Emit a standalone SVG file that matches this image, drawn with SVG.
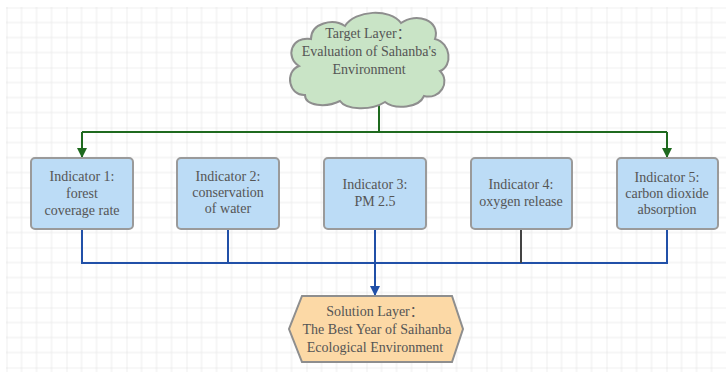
<svg xmlns="http://www.w3.org/2000/svg" width="726" height="372" viewBox="0 0 726 372">
<style>
.t{font-family:"Liberation Serif","Noto Sans CJK SC",serif;font-size:14px;fill:#555;text-anchor:middle}
.box{fill:#bcdcf6;stroke:#9a9a9a;stroke-width:2}
.g{fill:none;stroke:#1f6a1f;stroke-width:2}
.b{fill:none;stroke:#2150a8;stroke-width:2}
.k{fill:none;stroke:#444;stroke-width:2}
</style>
<defs>
<pattern id="grid" x="6.5" y="7.5" width="60" height="60" patternUnits="userSpaceOnUse">
<path d="M15 0V60M30 0V60M45 0V60M0 15H60M0 30H60M0 45H60" stroke="#ececec" stroke-width="1" fill="none"/>
<path d="M0 0V60M0 0H60" stroke="#e2e2e2" stroke-width="1.2" fill="none"/>
</pattern>
<marker id="ag" markerWidth="10" markerHeight="10" refX="9" refY="5" orient="auto" markerUnits="userSpaceOnUse"><path d="M0 0L10 5L0 10Z" fill="#1f6a1f"/></marker>
<marker id="ab" markerWidth="10" markerHeight="10" refX="9" refY="5" orient="auto" markerUnits="userSpaceOnUse"><path d="M0 0L10 5L0 10Z" fill="#2150a8"/></marker>
</defs>
<rect width="726" height="372" fill="#fff"/>
<rect x="6" y="7" width="720" height="365" fill="url(#grid)"/>
<g id="connectors">
<path class="g" d="M379 105V132"/>
<path class="g" d="M82 132H667"/>
<path class="g" d="M82 132V157" marker-end="url(#ag)"/>
<path class="g" d="M667 132V157" marker-end="url(#ag)"/>
<path class="b" d="M82 229V263H667V229"/>
<path class="b" d="M228 229V263"/>
<path class="b" d="M375 229V295" marker-end="url(#ab)"/>
<path class="k" d="M521 229V263"/>
</g>
<g id="target">
<path d="M305 95C289 96 284 72 299 66C285 57 291 36 311 39C311 23 333 18 345 26C355 10 390 8 401 23C416 12 441 20 435 39C451 43 453 66 440 71C451 82 440 100 424 96C419 108 395 110 385 102C371 111 346 110 340 101C326 108 305 106 305 95Z" fill="#c9e4c6" stroke="#8e8e8e" stroke-width="2"/>
<text class="t" x="368" y="38">Target Layer：</text>
<text class="t" x="369" y="56">Evaluation of Sahanba's</text>
<text class="t" x="369" y="74">Environment</text>
</g>
<g id="ind1">
<rect class="box" x="31" y="158" width="102" height="71" rx="4"/>
<text class="t" x="82" y="181">Indicator 1:</text>
<text class="t" x="82" y="198">forest</text>
<text class="t" x="82" y="215">coverage rate</text>
</g>
<g id="ind2">
<rect class="box" x="177" y="158" width="102" height="71" rx="4"/>
<text class="t" x="228" y="181">Indicator 2:</text>
<text class="t" x="228" y="197">conservation</text>
<text class="t" x="228" y="213">of water</text>
</g>
<g id="ind3">
<rect class="box" x="324" y="158" width="102" height="71" rx="4"/>
<text class="t" x="375" y="189">Indicator 3:</text>
<text class="t" x="375" y="206">PM 2.5</text>
</g>
<g id="ind4">
<rect class="box" x="471" y="158" width="101" height="71" rx="4"/>
<text class="t" x="521" y="189">Indicator 4:</text>
<text class="t" x="521" y="206">oxygen release</text>
</g>
<g id="ind5">
<rect class="box" x="617" y="158" width="101" height="71" rx="4"/>
<text class="t" x="667" y="182">Indicator 5:</text>
<text class="t" x="667" y="198">carbon dioxide</text>
<text class="t" x="667" y="214">absorption</text>
</g>
<g id="solution">
<path d="M302 296H452L463 329L452 362H302L289 329Z" fill="#fcd9a6" stroke="#8e8e8e" stroke-width="2"/>
<text class="t" x="375" y="316">Solution Layer：</text>
<text class="t" x="377" y="334">The Best Year of Saihanba</text>
<text class="t" x="375" y="352">Ecological Environment</text>
</g>
</svg>
